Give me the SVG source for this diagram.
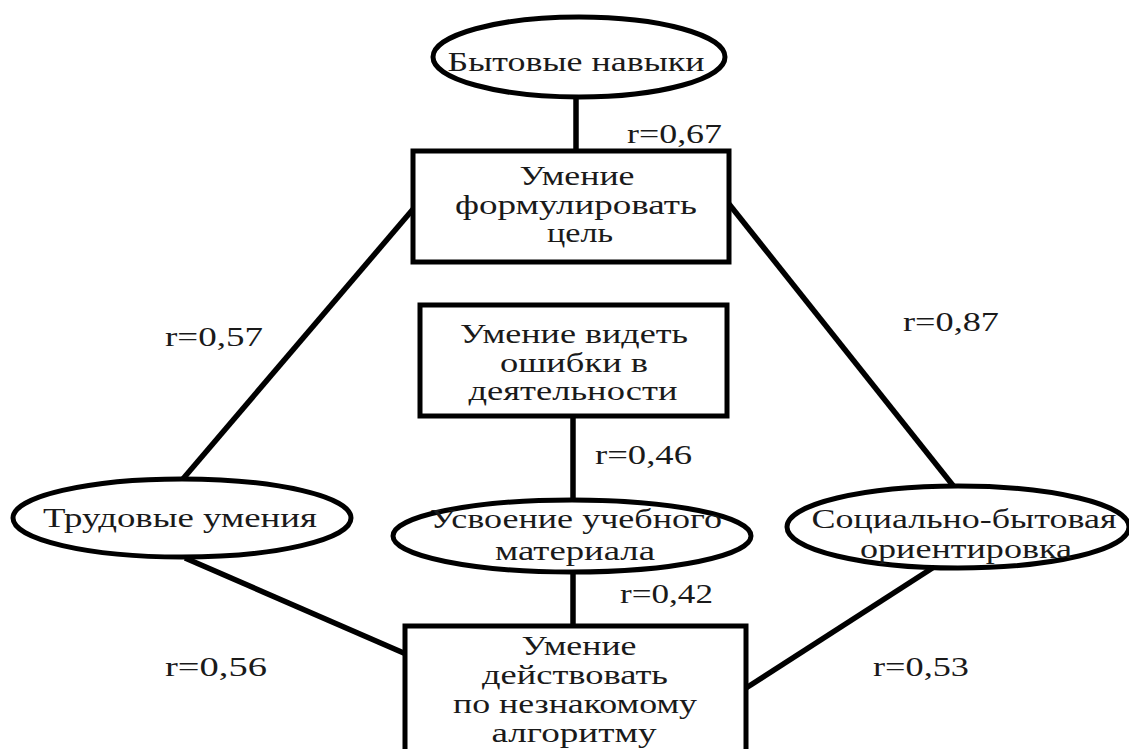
<svg xmlns="http://www.w3.org/2000/svg" width="1129" height="749" viewBox="0 0 1129 749">
<style>
.s{fill:#fff;stroke:#000;stroke-width:5}
.c line{stroke:#000;stroke-width:5.5}
text{font-family:"Liberation Serif","Times New Roman",serif;font-size:28px;fill:#1a1a1a;text-anchor:middle}
.r{text-anchor:start}
</style>
<rect width="1129" height="749" fill="#fff"/>
<g id="connectors" class="c">
<line x1="576" y1="96" x2="576" y2="152"/>
<line x1="414" y1="208" x2="182" y2="480"/>
<line x1="729" y1="204" x2="955" y2="488"/>
<line x1="573" y1="416" x2="573" y2="500"/>
<line x1="573" y1="572" x2="573" y2="626"/>
<line x1="185" y1="558" x2="406" y2="654"/>
<line x1="934" y1="567" x2="746" y2="688"/>
</g>
<g id="labels">
<text class="r" x="627" y="143" textLength="95" lengthAdjust="spacingAndGlyphs">r=0,67</text>
<text class="r" x="165" y="346" textLength="98" lengthAdjust="spacingAndGlyphs">r=0,57</text>
<text class="r" x="903" y="331" textLength="96" lengthAdjust="spacingAndGlyphs">r=0,87</text>
<text class="r" x="595" y="464" textLength="97" lengthAdjust="spacingAndGlyphs">r=0,46</text>
<text class="r" x="620" y="603" textLength="93" lengthAdjust="spacingAndGlyphs">r=0,42</text>
<text class="r" x="165" y="676" textLength="102" lengthAdjust="spacingAndGlyphs">r=0,56</text>
<text class="r" x="873" y="676" textLength="96" lengthAdjust="spacingAndGlyphs">r=0,53</text>
</g>
<g id="n-byt">
<ellipse class="s" cx="579" cy="57" rx="146" ry="40"/>
<text x="576" y="71" textLength="257" lengthAdjust="spacingAndGlyphs">Бытовые навыки</text>
</g>
<g id="n-cel">
<rect class="s" x="413" y="151" width="316" height="111"/>
<text x="577" y="185" textLength="115" lengthAdjust="spacingAndGlyphs">Умение</text>
<text x="576" y="214" textLength="242" lengthAdjust="spacingAndGlyphs">формулировать</text>
<text x="580" y="242" textLength="66" lengthAdjust="spacingAndGlyphs">цель</text>
</g>
<g id="n-osh">
<rect class="s" x="420" y="305" width="307" height="111"/>
<text x="574" y="343" textLength="228" lengthAdjust="spacingAndGlyphs">Умение видеть</text>
<text x="574" y="372" textLength="148" lengthAdjust="spacingAndGlyphs">ошибки в</text>
<text x="573" y="400" textLength="209" lengthAdjust="spacingAndGlyphs">деятельности</text>
</g>
<g id="n-trud">
<ellipse class="s" cx="182" cy="518" rx="169" ry="39"/>
<text x="180" y="527" textLength="274" lengthAdjust="spacingAndGlyphs">Трудовые умения</text>
</g>
<g id="n-usv">
<ellipse class="s" cx="572" cy="536" rx="179" ry="36"/>
<text x="576" y="528" textLength="292" lengthAdjust="spacingAndGlyphs">Усвоение учебного</text>
<text x="575" y="560" textLength="160" lengthAdjust="spacingAndGlyphs">материала</text>
</g>
<g id="n-soc">
<ellipse class="s" cx="958" cy="527" rx="171" ry="41"/>
<text x="964" y="528" textLength="305" lengthAdjust="spacingAndGlyphs">Социально-бытовая</text>
<text x="966" y="558" textLength="212" lengthAdjust="spacingAndGlyphs">ориентировка</text>
</g>
<g id="n-alg">
<rect class="s" x="405" y="626" width="341" height="140"/>
<text x="579" y="655" textLength="115" lengthAdjust="spacingAndGlyphs">Умение</text>
<text x="575" y="684" textLength="186" lengthAdjust="spacingAndGlyphs">действовать</text>
<text x="575" y="713" textLength="244" lengthAdjust="spacingAndGlyphs">по незнакомому</text>
<text x="574" y="742" textLength="165" lengthAdjust="spacingAndGlyphs">алгоритму</text>
</g>
</svg>
